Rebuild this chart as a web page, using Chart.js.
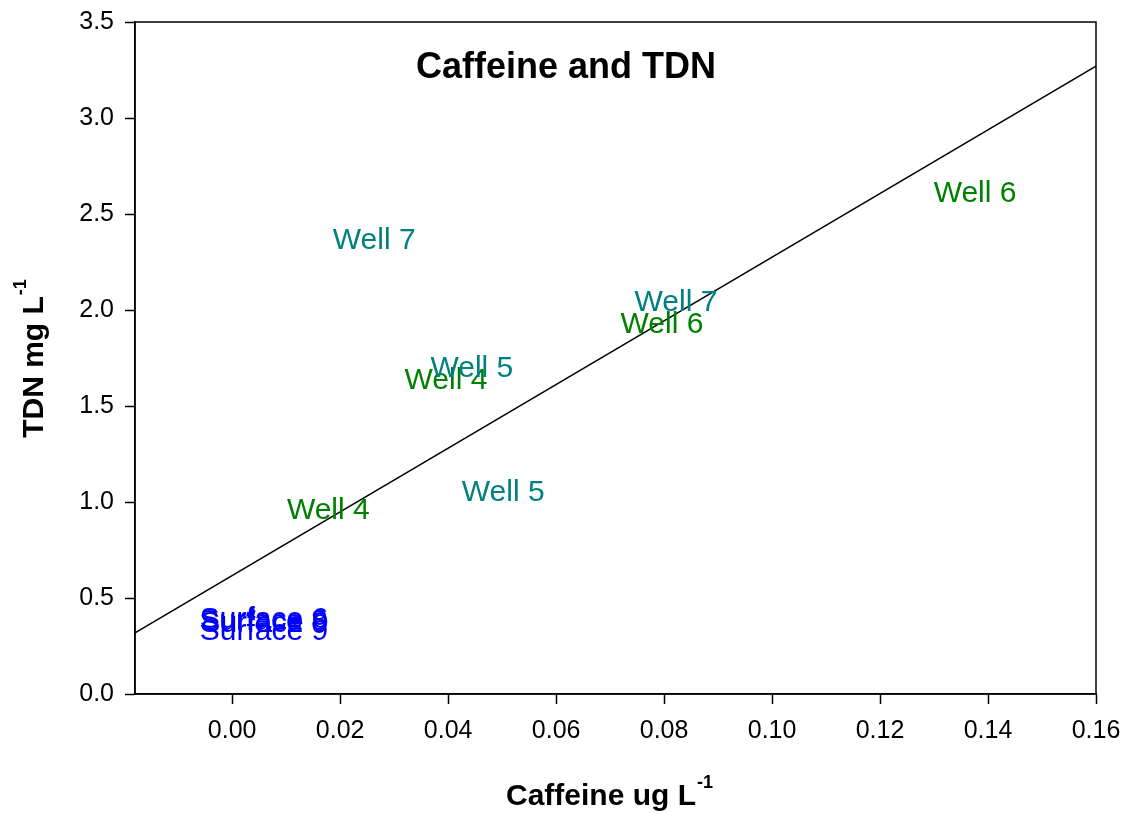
<!DOCTYPE html>
<html>
<head>
<meta charset="utf-8">
<script src="https://cdn.jsdelivr.net/npm/chart.js@4/dist/chart.umd.min.js"></script>
<style>
  body { margin: 0; background: #fff; }
  #wrap { width: 1126px; height: 813px; }
</style>
</head>
<body>
<div id="wrap"><canvas id="myChart" width="1126" height="813"></canvas></div>
<script>
// Dati
const wellNames = ['Well 7', 'Well 4', 'Well 4', 'Well 5', 'Well 5', 'Well 7', 'Well 6', 'Well 6'];
const wellX = [0.0263, 0.0178, 0.0396, 0.0444, 0.0502, 0.0822, 0.0796, 0.1376];
const wellY = [2.36, 0.955, 1.633, 1.695, 1.048, 2.04, 1.925, 2.608];

const surfaceNames = ['Surface 6', 'Surface 8', 'Surface 9', 'Surface 9'];
const surfaceX = [0.0059, 0.0058, 0.0060, 0.0059];
const surfaceY = [0.385, 0.375, 0.365, 0.325];

// retta di regressione (estremi)
const fitX = [-0.018, 0.16];
const fitY = [0.318, 3.27];

const xTicks = [0, 0.02, 0.04, 0.06, 0.08, 0.10, 0.12, 0.14, 0.16];
const yTicks = [0, 0.5, 1.0, 1.5, 2.0, 2.5, 3.0, 3.5];

const FONT = "'Liberation Sans', Arial, sans-serif";
const GREEN = 'rgb(0,128,0)';
const TEAL = 'rgb(0,128,128)';
const BLUE = 'rgb(0,0,255)';

function wellColor(name) {
    return (name === 'Well 4' || name === 'Well 6') ? GREEN : TEAL;
}

let wellPoints = wellX.map((x, i) => ({ x: x, y: wellY[i], label: wellNames[i] }));
let surfacePoints = surfaceX.map((x, i) => ({ x: x, y: surfaceY[i], label: surfaceNames[i] }));
let fitPoints = fitX.map((x, i) => ({ x: x, y: fitY[i] }));

// Etichette di testo sui punti
const labelPlugin = {
    id: 'labelPlugin',
    afterDatasetsDraw(chart) {
        const ctx = chart.ctx;
        ctx.save();
        ctx.font = '30px ' + FONT;
        ctx.textAlign = 'center';
        ctx.textBaseline = 'middle';
        chart.data.datasets.forEach((ds, di) => {
            if (!ds.isLabels) return;
            const meta = chart.getDatasetMeta(di);
            meta.data.forEach((pt, i) => {
                const name = ds.data[i].label;
                ctx.fillStyle = ds.isSurface ? BLUE : wellColor(name);
                ctx.fillText(name, pt.x, pt.y);
            });
        });
        ctx.restore();
    }
};

// Cornice, titoli degli assi e titolo interno
const framePlugin = {
    id: 'framePlugin',
    afterDraw(chart) {
        const ctx = chart.ctx;
        const a = chart.chartArea;
        ctx.save();
        ctx.strokeStyle = '#000';
        ctx.lineWidth = 1.5;
        ctx.strokeRect(a.left, a.top, a.right - a.left, a.bottom - a.top);

        ctx.fillStyle = '#000';
        // titolo
        ctx.font = 'bold 36px ' + FONT;
        ctx.textAlign = 'center';
        ctx.textBaseline = 'alphabetic';
        ctx.fillText('Caffeine and TDN', 566, 78);

        // titolo asse x
        ctx.font = 'bold 30px ' + FONT;
        ctx.textAlign = 'left';
        const xt = 'Caffeine ug L';
        ctx.fillText(xt, 506, 805);
        const w = ctx.measureText(xt).width;
        ctx.font = 'bold 18px ' + FONT;
        ctx.fillText('-1', 506 + w + 1, 788);

        // titolo asse y
        ctx.translate(43, 359);
        ctx.rotate(-Math.PI / 2);
        ctx.font = 'bold 30px ' + FONT;
        const yt = 'TDN mg L';
        const yw = ctx.measureText(yt).width;
        ctx.font = 'bold 18px ' + FONT;
        const sw = ctx.measureText('-1').width;
        const start = -(yw + sw) / 2;
        ctx.font = 'bold 30px ' + FONT;
        ctx.fillText(yt, start, 0);
        ctx.font = 'bold 18px ' + FONT;
        ctx.fillText('-1', start + yw + 1, -17);
        ctx.restore();
    }
};

const ctx = document.getElementById('myChart').getContext('2d');
const myChart = new Chart(ctx, {
    type: 'scatter',
    data: {
        datasets: [{
            type: 'line',
            data: fitPoints,
            borderColor: '#000',
            borderWidth: 1.5,
            pointRadius: 0,
            fill: false
        }, {
            data: wellPoints,
            pointRadius: 0,
            isLabels: true
        }, {
            data: surfacePoints,
            pointRadius: 0,
            isLabels: true,
            isSurface: true
        }]
    },
    options: {
        responsive: false,
        animation: false,
        layout: {
            padding: { top: 22, right: 30, bottom: 0, left: 0 }
        },
        scales: {
            x: {
                type: 'linear',
                min: -0.018,
                max: 0.16,
                afterBuildTicks: (scale) => { scale.ticks = xTicks.map(v => ({ value: v })); },
                afterFit: (scale) => {
                    scale.height = 119;
                    scale.paddingLeft = 0;
                    scale.paddingRight = 0;
                },
                grid: {
                    drawOnChartArea: false,
                    tickLength: 10,
                    tickColor: '#000',
                    tickWidth: 1.5
                },
                border: { display: true, color: '#000', width: 1.5 },
                ticks: {
                    color: '#000',
                    padding: 12,
                    font: { family: FONT, size: 25 },
                    maxRotation: 0,
                    autoSkip: false,
                    callback: (v) => v.toFixed(2)
                }
            },
            y: {
                type: 'linear',
                min: 0,
                max: 3.5,
                afterBuildTicks: (scale) => { scale.ticks = yTicks.map(v => ({ value: v })); },
                afterFit: (scale) => {
                    scale.width = 135;
                    scale.paddingTop = 0;
                    scale.paddingBottom = 0;
                },
                grid: {
                    drawOnChartArea: false,
                    tickLength: 10,
                    tickColor: '#000',
                    tickWidth: 1.5
                },
                border: { display: true, color: '#000', width: 1.5 },
                ticks: {
                    color: '#000',
                    padding: 11,
                    font: { family: FONT, size: 25 },
                    autoSkip: false,
                    callback: (v) => v.toFixed(1)
                }
            }
        },
        plugins: {
            legend: { display: false },
            tooltip: { enabled: false }
        }
    },
    plugins: [labelPlugin, framePlugin]
});
</script>
</body>
</html>
